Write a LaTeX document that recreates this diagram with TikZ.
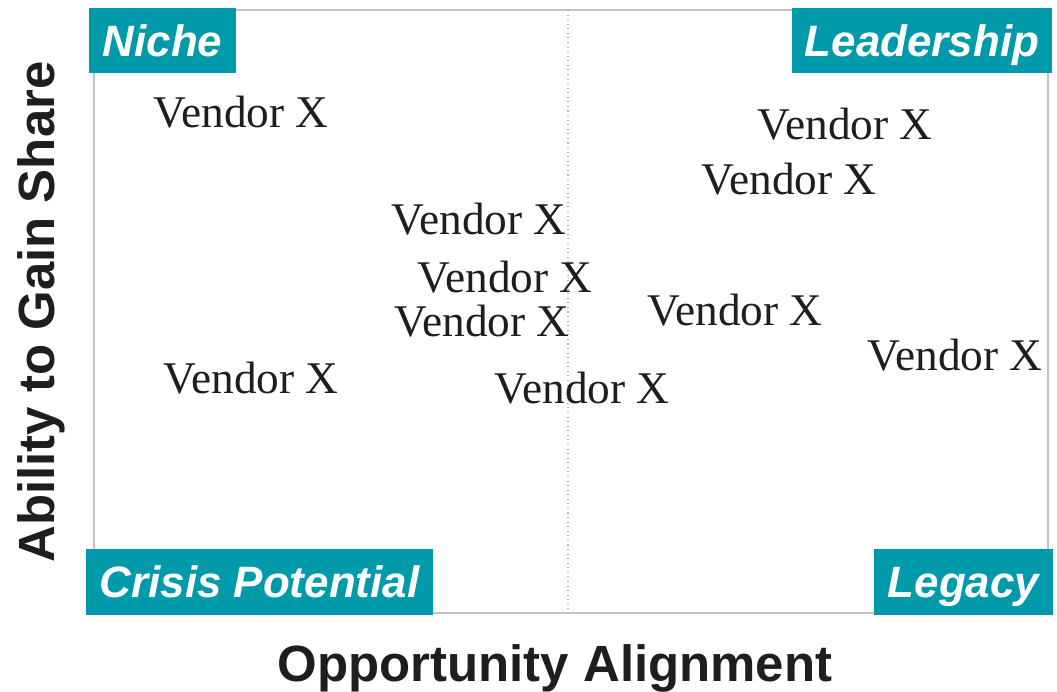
\documentclass[tikz,border=0pt]{standalone}
\usepackage{fontspec}
\setmainfont{Liberation Serif}
\setsansfont{Liberation Sans}
\usepackage{xcolor}
\usepackage{tikz}
\usetikzlibrary{positioning}
\definecolor{qdTeal}{RGB}{0, 154, 170}
\definecolor{qdFrame}{RGB}{195, 195, 195}
\definecolor{qdInk}{RGB}{30, 30, 30}
\tikzset{
    frame/.style={
        draw=qdFrame,
        line width=0.7pt
    },
    divider/.style={
        draw=qdFrame!90!black,
        line width=0.6pt,
        dotted
    },
    quadrant/.style={
        rectangle,
        fill=qdTeal,
        text=white,
        font=\sffamily\bfseries\itshape\fontsize{25}{30}\selectfont,
        text height=18pt,
        text depth=0pt,
        inner sep=0pt
    },
    vendor/.style={
        font=\rmfamily\fontsize{25.8}{30}\selectfont,
        text=qdInk,
        anchor=base,
        inner sep=0pt
    },
    axis/.style={
        font=\sffamily\bfseries\fontsize{29}{34}\selectfont,
        text=qdInk,
        anchor=base,
        inner sep=0pt
    }
}

\begin{document}
\begin{tikzpicture}[x=0.02cm, y=-0.02cm]
    \useasboundingbox (0,0) rectangle (1057,692);

    % Plot area and middle divider
    \draw[frame] (94,10) rectangle (1048,613);
    \coordinate (midtop) at (568,10);
    \coordinate (midbot) at (568,613);
    \draw[divider] (midtop) -- (midbot);

    % Quadrant tags
    \node[quadrant, minimum width=2.94cm, minimum height=1.3cm] (niche) at (162.5,40.5) {Niche};
    \node[quadrant, minimum width=5.2cm, minimum height=1.3cm] (leader) at (922,40.5) {Leadership};
    \node[quadrant, minimum width=6.94cm, minimum height=1.32cm] (crisis) at (259.5,582) {Crisis Potential};
    \node[quadrant, minimum width=3.58cm, minimum height=1.32cm] (legacy) at (963.5,582) {Legacy};

    % Vendors (baseline positions)
    \foreach \x/\y [count=\i] in {241/128, 845/140, 789/195, 479/235, 505/293,
                                  482/337, 735/325, 955/370, 251/393, 582/403} {
        \node[vendor] (v\i) at (\x,\y) {Vendor X};
    }

    % Axis titles
    \node[axis] (xlab) at (555,681) {Opportunity Alignment};
    \node[axis, rotate=90] (ylab) at (54,312) {Ability to Gain Share};

\end{tikzpicture}
\end{document}
